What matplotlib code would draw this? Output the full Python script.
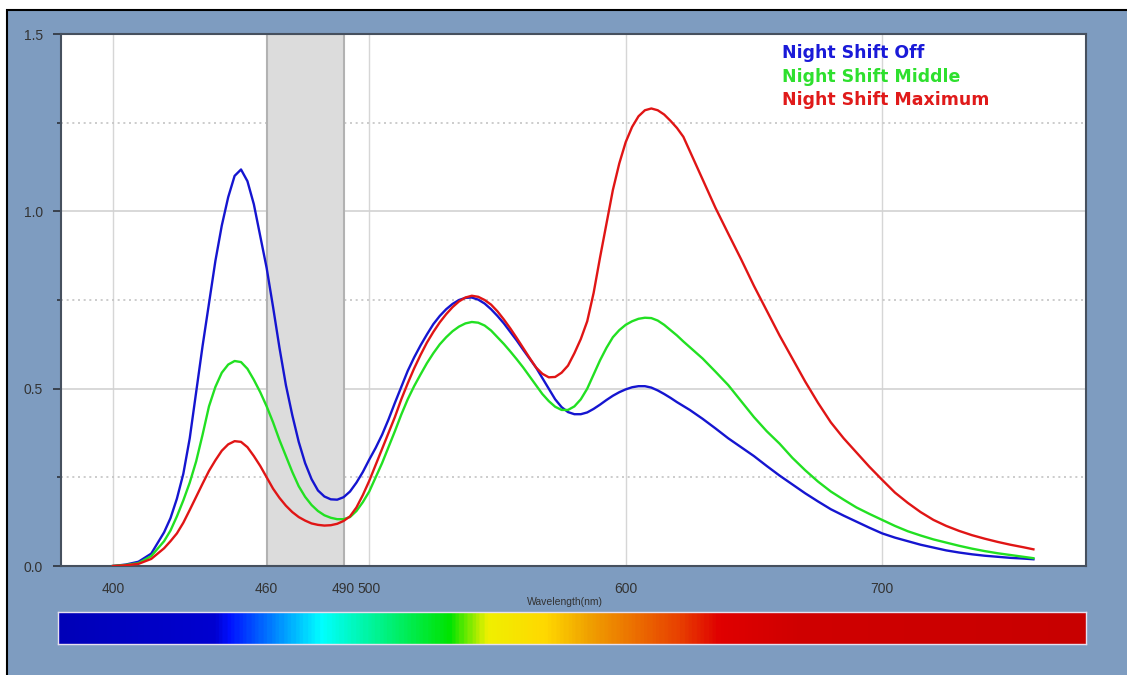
import numpy as np
import matplotlib
matplotlib.use('Agg')
import matplotlib.pyplot as plt
from matplotlib.colors import LinearSegmentedColormap
from matplotlib.patches import Rectangle

# wavelength grid (nm): finer where the curves bend sharply
wavelength = ([400, 405, 410, 415] + list(np.arange(420, 625.1, 2.5))
              + list(range(630, 756, 5)) + [759])

shift_off = ([0.0, 0.004, 0.012, 0.035]
             # 420 - 500
             + [0.095, 0.135, 0.19, 0.26, 0.36, 0.49, 0.62, 0.74, 0.86, 0.96, 1.04, 1.10, 1.118, 1.085, 1.02, 0.93,
                0.84, 0.73, 0.615, 0.51, 0.425, 0.35, 0.29, 0.245, 0.213, 0.196, 0.188, 0.187, 0.194, 0.21, 0.235,
                0.265, 0.30]
             # 502.5 - 560
             + [0.333, 0.37, 0.413, 0.46, 0.505, 0.55, 0.588, 0.622, 0.653, 0.682, 0.705, 0.724, 0.739, 0.75, 0.756,
                0.757, 0.751, 0.74, 0.724, 0.705, 0.684, 0.66, 0.636, 0.61]
             # 562.5 - 625
             + [0.585, 0.56, 0.53, 0.50, 0.47, 0.448, 0.434, 0.428, 0.428, 0.433, 0.443, 0.455, 0.468, 0.48, 0.49,
                0.498, 0.504, 0.507, 0.507, 0.503, 0.495, 0.485, 0.474, 0.462, 0.451, 0.44]
             # 630 - 700
             + [0.415, 0.388, 0.36, 0.335, 0.31, 0.282, 0.255, 0.23, 0.205, 0.182, 0.16, 0.142, 0.125, 0.108, 0.092]
             # 705 - 759
             + [0.08, 0.07, 0.06, 0.052, 0.044, 0.038, 0.033, 0.029, 0.026, 0.023, 0.021, 0.019])

shift_middle = ([0.0, 0.003, 0.008, 0.028]
                + [0.07, 0.10, 0.14, 0.185, 0.235, 0.295, 0.37, 0.45, 0.505, 0.545, 0.568, 0.578, 0.575, 0.556, 0.525,
                   0.49, 0.45, 0.405, 0.355, 0.31, 0.265, 0.225, 0.195, 0.172, 0.155, 0.143, 0.136, 0.132, 0.132,
                   0.138, 0.155, 0.18, 0.21]
                + [0.25, 0.29, 0.335, 0.38, 0.427, 0.47, 0.507, 0.54, 0.572, 0.60, 0.625, 0.645, 0.662, 0.675, 0.684,
                   0.688, 0.686, 0.678, 0.664, 0.645, 0.626, 0.605, 0.583, 0.56]
                + [0.535, 0.51, 0.485, 0.465, 0.449, 0.44, 0.44, 0.45, 0.47, 0.50, 0.54, 0.58, 0.615, 0.645, 0.665,
                   0.68, 0.69, 0.697, 0.70, 0.699, 0.692, 0.68, 0.665, 0.65, 0.633, 0.617]
                + [0.585, 0.548, 0.51, 0.465, 0.42, 0.38, 0.345, 0.305, 0.27, 0.238, 0.21, 0.187, 0.165, 0.147, 0.13]
                + [0.113, 0.098, 0.086, 0.075, 0.066, 0.057, 0.049, 0.042, 0.036, 0.031, 0.026, 0.022])

shift_max = ([0.0, 0.002, 0.006, 0.02]
             + [0.05, 0.07, 0.092, 0.122, 0.158, 0.195, 0.232, 0.268, 0.298, 0.325, 0.343, 0.352, 0.35, 0.335, 0.31,
                0.282, 0.25, 0.218, 0.192, 0.17, 0.152, 0.138, 0.128, 0.12, 0.116, 0.114, 0.115, 0.119, 0.127, 0.14,
                0.165, 0.2, 0.24]
             + [0.285, 0.33, 0.375, 0.42, 0.47, 0.515, 0.557, 0.595, 0.63, 0.66, 0.687, 0.71, 0.73, 0.746, 0.757,
                0.762, 0.759, 0.75, 0.737, 0.718, 0.695, 0.67, 0.643, 0.615]
             + [0.587, 0.56, 0.542, 0.532, 0.533, 0.545, 0.565, 0.60, 0.64, 0.69, 0.77, 0.87, 0.965, 1.06, 1.135,
                1.195, 1.238, 1.268, 1.285, 1.29, 1.285, 1.273, 1.255, 1.235, 1.21, 1.17]
             + [1.09, 1.01, 0.937, 0.865, 0.79, 0.72, 0.65, 0.585, 0.52, 0.46, 0.405, 0.36, 0.32, 0.28, 0.243]
             + [0.207, 0.178, 0.152, 0.13, 0.113, 0.099, 0.087, 0.077, 0.068, 0.06, 0.053, 0.047])

labels = ['Night Shift Off', 'Night Shift Middle', 'Night Shift Maximum']
colors = ['#1515d0', '#22e022', '#e01515']
text_colors = ['#1a1ad8', '#2ee02e', '#e01a1a']

xtick_pos = [400, 460, 490, 500, 600, 700]
ytick_pos = [0.0, 0.5, 1.0, 1.5]

# spectrum bar stops (fraction along bar, colour)
spec_pos = [0.0, 0.151, 0.165, 0.255, 0.381, 0.417, 0.474, 0.517, 0.605, 0.644, 0.72, 1.0]
spec_col = ['#0000b8', '#0000d0', '#0010ff', '#00ffff', '#00e400', '#f0f000', '#ffd800',
            '#f0a000', '#e84000', '#e00000', '#d00000', '#c80000']

bg = '#7e9cc0'
fig = plt.figure(figsize=(11.27, 6.75), dpi=100, facecolor='white')
# blue panel with black border on left/top
fig.patches.append(Rectangle((7 / 1127, -0.1), 1.2, 1 - 10 / 675 + 0.1, transform=fig.transFigure,
                             facecolor=bg, edgecolor='black', lw=1.5, zorder=-1))

ax = fig.add_axes([61 / 1127, 1 - 566 / 675, 1025 / 1127, 532 / 675])
ax.set_facecolor('white')
ax.set_xlim(379.8, 779.5)
ax.set_ylim(0, 1.5)

# grid
for x in [400, 500, 600, 700]:
    ax.axvline(x, color='#d6d6d6', lw=1, zorder=0.5)
for y in [0.5, 1.0]:
    ax.axhline(y, color='#d2d2d2', lw=1.2, zorder=0.5)
for y in [0.25, 0.75, 1.25]:
    ax.axhline(y, color='#c4c4c4', lw=1.2, ls=(0, (1.2, 2.2)), zorder=0.5)

# shaded 460-490 band
ax.axvspan(460, 490, facecolor='#dcdcdc', edgecolor='#b2b2b2', lw=1.5, zorder=1)

series = [shift_off, shift_middle, shift_max]
for vals, c in zip(series, colors):
    ax.plot(wavelength, vals, color=c, lw=1.7, zorder=3, solid_joinstyle='round')

for i, (lab, c) in enumerate(zip(labels, text_colors)):
    ax.text(0.7034, 0.964 - i * 0.0442, lab, transform=ax.transAxes, color=c,
            fontsize=12.5, fontweight='bold', family='DejaVu Sans', va='center', ha='left', zorder=4)

# ticks
ax.set_xticks(xtick_pos)
ax.set_xticklabels([str(v) for v in xtick_pos])
ax.set_xticks([400, 500, 600, 700], minor=True)
ax.tick_params(axis='x', which='major', length=0, pad=11.5, labelsize=10, labelcolor='#333333')
ax.tick_params(axis='x', which='minor', length=5.5, width=1.5, color='#333a44', direction='out')
ax.set_yticks(ytick_pos)
ax.set_yticklabels(['0.0', '0.5', '1.0', '1.5'])
ax.set_yticks([0.25, 0.75, 1.25], minor=True)
ax.tick_params(axis='y', which='major', length=6, width=1.3, color='#333a44', pad=7, labelsize=10, labelcolor='#333333')
ax.tick_params(axis='y', which='minor', length=3, width=1.3, color='#333a44')
for lab in ax.get_xticklabels() + ax.get_yticklabels():
    lab.set_family('Liberation Sans')

for s in ax.spines.values():
    s.set_color('#46505e')
    s.set_linewidth(1.5)

ax.set_xlabel('Wavelength(nm)', fontsize=7.5, family='Liberation Sans', color='#333333', labelpad=2)
ax.xaxis.set_label_coords(0.492, -0.058)

# spectrum bar
cmap = LinearSegmentedColormap.from_list('spec', list(zip(spec_pos, spec_col)))
cax = fig.add_axes([58 / 1127, 1 - 644 / 675, 1028 / 1127, 32 / 675])
cax.imshow(np.linspace(0, 1, 600)[None, :], cmap=cmap, aspect='auto', extent=[0, 1, 0, 1])
cax.set_xticks([])
cax.set_yticks([])
for s in cax.spines.values():
    s.set_color('#e6e0f0')
    s.set_linewidth(1)

fig.savefig('out.png', dpi=100, facecolor=fig.get_facecolor())
